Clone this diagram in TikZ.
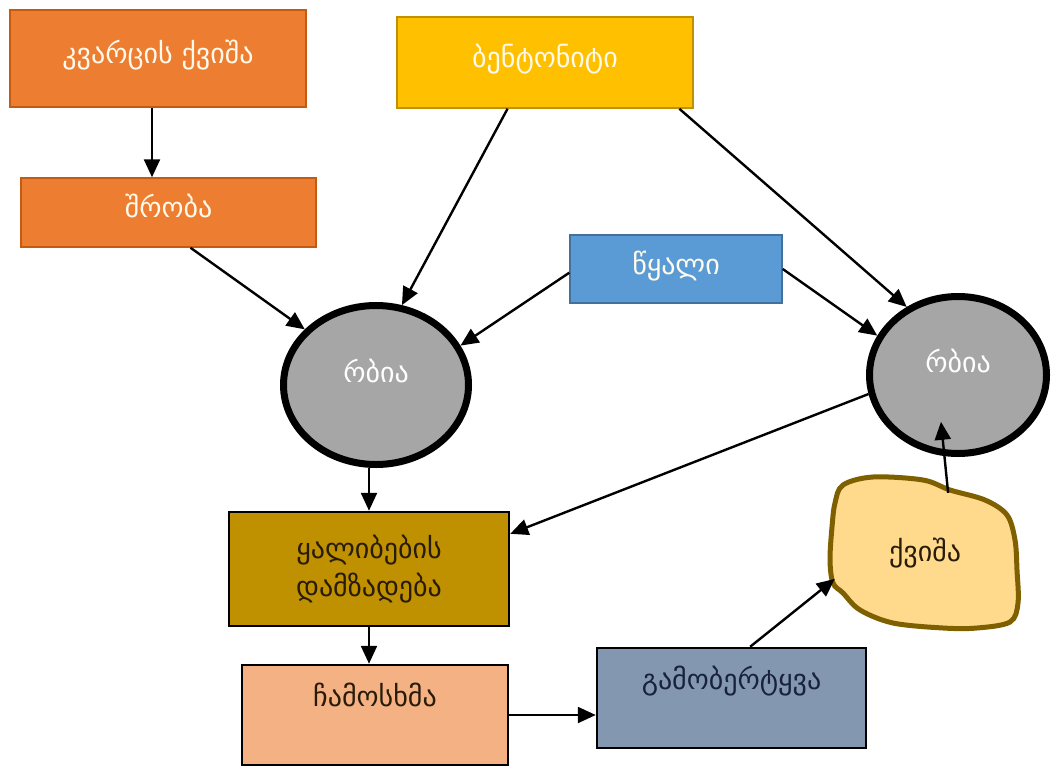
\documentclass[tikz,border=0pt]{standalone}
\usepackage{fontspec}
\newfontfamily\geo{DejaVu Sans}
\usetikzlibrary{shapes.geometric,arrows.meta,calc}
\definecolor{quartz}{RGB}{237,125,49}
\definecolor{quartzline}{RGB}{197,90,17}
\definecolor{bentonite}{RGB}{255,192,0}
\definecolor{bentoniteline}{RGB}{191,144,0}
\definecolor{water}{RGB}{91,155,213}
\definecolor{waterline}{RGB}{65,113,156}
\definecolor{mixer}{RGB}{166,166,166}
\definecolor{mould}{RGB}{191,144,0}
\definecolor{pouring}{RGB}{244,177,131}
\definecolor{knockout}{RGB}{132,151,176}
\definecolor{sand}{RGB}{255,217,140}
\definecolor{sandline}{RGB}{127,96,0}
\definecolor{lighttext}{RGB}{255,250,235}
\definecolor{darktext}{RGB}{40,28,8}
\definecolor{navytext}{RGB}{24,34,60}
\tikzstyle{arrow}=[line width=2.4pt, -{Triangle[length=18pt,width=16pt]}]
\tikzstyle{box}=[rectangle, draw, align=center, inner sep=0pt,
    font=\geo\fontsize{28}{38}\selectfont]
\tikzstyle{lightbox}=[box, text=lighttext, line width=1.5pt, text height=15pt, text depth=5pt]
\tikzstyle{darkbox}=[box, text=darktext, draw=black, line width=2.5pt]
\tikzstyle{topbox}=[darkbox, text height=15pt, text depth=33pt]
\tikzstyle{mixerdisc}=[ellipse, draw=black, fill=mixer, line width=7pt, inner sep=0pt,
    font=\geo\fontsize{28}{32}\selectfont, text=white, text height=15pt, text depth=20pt]
\tikzstyle{sandblob}=[draw=sandline, fill=sand, line width=5pt]

\begin{document}
\begin{tikzpicture}[x=1pt,y=-1pt]
    \useasboundingbox (0,0) rectangle (1052,766);

    \node[lightbox, fill=quartz, draw=quartzline, minimum width=296pt, minimum height=97pt]
        (quartz) at (158,58.5) {კვარცის ქვიშა};
    \node[lightbox, fill=quartz, draw=quartzline, minimum width=295pt, minimum height=69pt]
        (drying) at (168.5,212.5) {შრობა};
    \node[lightbox, fill=bentonite, draw=bentoniteline, minimum width=296pt, minimum height=91pt]
        (bentonite) at (545,62.5) {ბენტონიტი};
    \node[lightbox, fill=water, draw=waterline, minimum width=212pt, minimum height=68pt]
        (water) at (676,269) {წყალი};

    \node[mixerdisc, minimum width=185pt, minimum height=159pt] (mixerleft) at (376,385) {რბია};
    \node[mixerdisc, minimum width=177pt, minimum height=157pt] (mixerright) at (958,375) {რბია};

    \node[darkbox, fill=mould, minimum width=280pt, minimum height=114pt]
        (mould) at (369,569) {ყალიბების\\დამზადება};
    \node[topbox, fill=pouring, minimum width=266pt, minimum height=100pt]
        (pouring) at (375,715) {ჩამოსხმა};
    \node[topbox, fill=knockout, text=navytext, minimum width=269pt, minimum height=100pt]
        (knockout) at (731.5,698) {გამობერტყვა};

    \draw[sandblob] plot[smooth cycle, tension=0.55] coordinates {
        (843,485) (873,477) (923,480) (950,490) (985,500) (1007,515) (1015,540)
        (1017,570) (1018,603) (1010,622) (977,628) (943,628) (893,623) (860,610)
        (843,593) (833,583) (830,560) (832,527) (835,503)};
    \node[font=\geo\fontsize{28}{32}\selectfont, text=darktext, minimum width=180pt,
        minimum height=120pt] (sand) at (925,553) {ქვიშა};

    \draw[arrow] ([xshift=-6pt]quartz.south) -- ([xshift=-6pt]quartz.south |- drying.north);
    \draw[arrow] (drying.-58) -- (mixerleft.142);
    \draw[arrow] (bentonite.231) -- (mixerleft.72);
    \draw[arrow] (water.182) -- (mixerleft.25);
    \draw[arrow] (bentonite.-19) -- (mixerright.127);
    \draw[arrow] (water.east) -- (mixerright.154);
    \draw[arrow] (mould.north |- mixerleft.south) -- (mould.north);
    \draw[arrow] (mixerright.192) -- (mould.14);
    \draw[arrow] (mould.south) -- (mould.south |- pouring.north);
    \draw[arrow] (pouring.east) -- (pouring.east -| knockout.west);
    \draw[arrow] (knockout.70) -- (sand.196);
    \draw[arrow] (sand.69) -- ($(mixerright.250)!0.4!(mixerright.center)$);
\end{tikzpicture}
\end{document}
